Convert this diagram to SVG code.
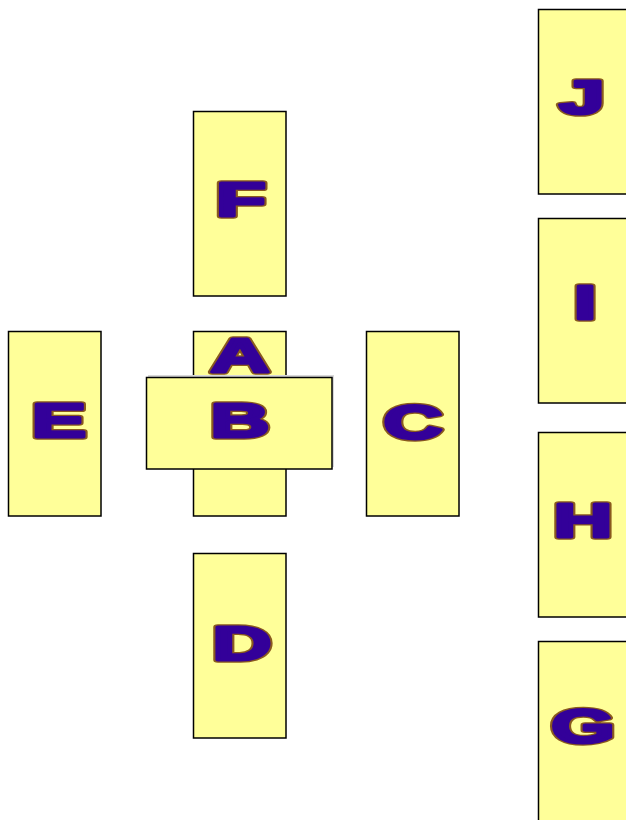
<svg xmlns="http://www.w3.org/2000/svg" width="626" height="820" viewBox="0 0 626 820">
<style>
.box{fill:#ffff99;stroke:#000;stroke-width:1.5}
.t{font-family:"Liberation Sans",Arial,sans-serif;font-weight:bold;font-size:48px;text-anchor:middle;stroke-linejoin:round}
.sh{fill:#7a4e1a;stroke:#8a5a1e;stroke-width:5.5}
.lbl{fill:#330099;stroke:#330099;stroke-width:3}
</style>
<rect width="626" height="820" fill="#fff"/>
<g id="connectors"></g>
<g id="F"><rect class="box" x="193.5" y="111.5" width="92.5" height="184.5"/><g transform="translate(241,216) scale(1.7,1)"><text class="t sh">F</text><text class="t lbl">F</text></g></g>
<g id="A"><rect class="box" x="193.5" y="331.5" width="92.5" height="184.5"/><g transform="translate(240,372) scale(1.7,1)"><text class="t sh">A</text><text class="t lbl">A</text></g></g>
<g id="B"><rect x="148" y="375" width="186" height="92" fill="#d8d8d8"/><rect class="box" x="146.5" y="377.5" width="185.5" height="91.5"/><g transform="translate(240,437) scale(1.7,1)"><text class="t sh">B</text><text class="t lbl">B</text></g></g>
<g id="E"><rect class="box" x="8.5" y="331.5" width="92.5" height="184.5"/><g transform="translate(59,437) scale(1.7,1)"><text class="t sh">E</text><text class="t lbl">E</text></g></g>
<g id="C"><rect class="box" x="366.5" y="331.5" width="92.5" height="184.5"/><g transform="translate(413,439) scale(1.7,1)"><text class="t sh">C</text><text class="t lbl">C</text></g></g>
<g id="D"><rect class="box" x="193.5" y="553.5" width="92.5" height="184.5"/><g transform="translate(242,660) scale(1.7,1)"><text class="t sh">D</text><text class="t lbl">D</text></g></g>
<g id="J"><rect class="box" x="538.5" y="9.5" width="92.5" height="184.5"/><g transform="translate(582,114) scale(1.7,1)"><text class="t sh">J</text><text class="t lbl">J</text></g></g>
<g id="I"><rect class="box" x="538.5" y="218.5" width="92.5" height="184.5"/><g transform="translate(585,319) scale(1.7,1)"><text class="t sh">I</text><text class="t lbl">I</text></g></g>
<g id="H"><rect class="box" x="538.5" y="432.5" width="92.5" height="184.5"/><g transform="translate(583,537) scale(1.7,1)"><text class="t sh">H</text><text class="t lbl">H</text></g></g>
<g id="G"><rect class="box" x="538.5" y="641.5" width="92.5" height="184.5"/><g transform="translate(583,743) scale(1.7,1)"><text class="t sh">G</text><text class="t lbl">G</text></g></g>
</svg>
